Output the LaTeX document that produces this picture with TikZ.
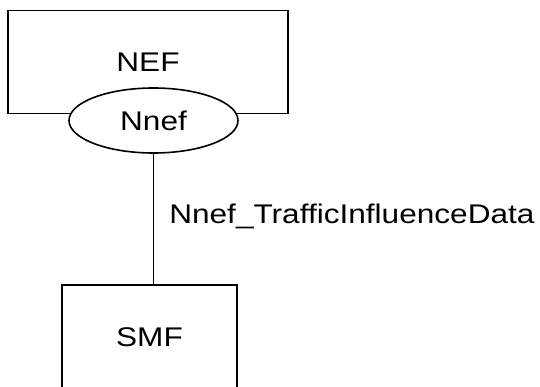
\documentclass[tikz,border=0pt]{standalone}
\usepackage{fontspec}
\setmainfont[FakeStretch=1.17,Ligatures=CommonOff]{Liberation Sans}
\usetikzlibrary{positioning,shapes.geometric}
\tikzset{
    base/.style={font=\fontsize{27}{32}\selectfont, align=center},
    block/.style={base, rectangle, draw=black, line width=1.6pt, fill=white, inner sep=0pt},
    iface/.style={base, ellipse, draw=black, line width=1.6pt, fill=white, inner sep=0pt,
                  minimum width=169pt, minimum height=65pt},
    link/.style={draw=black, line width=1.6pt},
    lbl/.style={base, anchor=west, inner sep=0pt}
}

\begin{document}
\begin{tikzpicture}[x=1pt, y=-1pt]
  \useasboundingbox (0,0) rectangle (540,387);
  \clip (0,0) rectangle (540,387);
  % Network functions
  \node[block, minimum width=280pt, minimum height=103pt] (nef) at (148,62) {NEF};
  \node[block, minimum width=175pt, minimum height=104pt] (smf) at (149.5,337) {SMF};
  % Service interface
  \node[iface] (nnef) at (153.5,120.5) {Nnef};
  % Link
  \draw[link] (nnef.south) -- node[lbl, pos=0.48, xshift=15pt] {Nnef\_TrafficInfluenceData} (nnef.south |- smf.north);
\end{tikzpicture}
\end{document}
